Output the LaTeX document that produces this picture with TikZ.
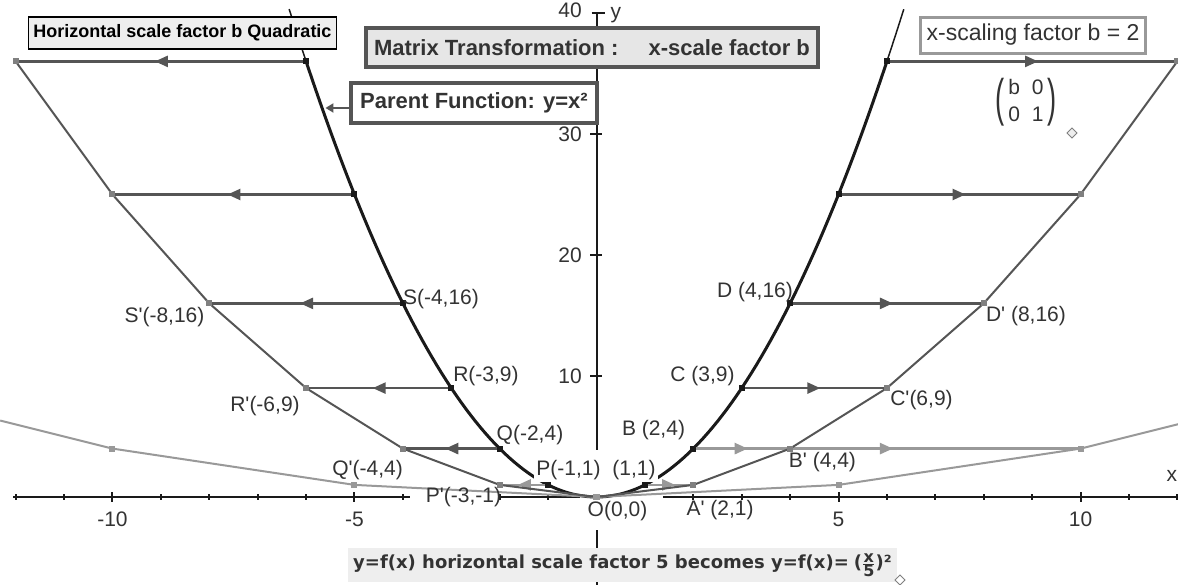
\documentclass[tikz,border=0pt]{standalone}
\usepackage{fontspec}
\setmainfont{Liberation Sans}
\newfontfamily\widefont{DejaVu Sans}
\usetikzlibrary{arrows.meta,decorations.markings}

\definecolor{inkblack}{HTML}{1A1A1A}
\definecolor{darkgrey}{HTML}{555555}
\definecolor{midgrey}{HTML}{808080}
\definecolor{softgrey}{HTML}{999999}
\definecolor{labelgrey}{HTML}{333333}
\definecolor{boxfill}{HTML}{EEEEEE}
\definecolor{headfill}{HTML}{E6E6E6}

\newcommand\pr{\textquotesingle}
\newcommand\lblsize{\fontsize{21}{24}\selectfont}
\newcommand\bigparen[1]{\raisebox{-0.37em}{\scalebox{1.3}[2.45]{#1}}}

\tikzset{
  midarrow/.style={postaction={decorate},decoration={markings,
    mark=at position 0.5 with {\pgftransformxshift{6pt}\arrow{Triangle[length=13pt,width=11pt]}}}},
  axisline/.style={line width=2pt,inkblack},
  tick/.style={line width=2pt,inkblack},
  ticklbl/.style={font=\lblsize,text=labelgrey,inner sep=0pt},
  parent/.style={line width=3pt,inkblack},
  parentthin/.style={line width=1.5pt,inkblack},
  image/.style={line width=2pt,darkgrey},
  fifth/.style={line width=2pt,softgrey},
  darkarrow/.style={line width=2.5pt,darkgrey,midarrow},
  lightarrow/.style={line width=2.5pt,softgrey,midarrow},
  lbl/.style={font=\lblsize,text=labelgrey,inner sep=0pt},
  cutlbl/.style={lbl,fill=white,inner sep=2pt},
  pointer/.style={line width=2.5pt,darkgrey,-{Triangle[length=8pt,width=9pt]}},
}

\begin{document}
\begin{tikzpicture}[x=48.4pt,y=12.1pt]
\useasboundingbox (-12.3244,-7.2727) rectangle (12.0145,41.0744);
\fill[white] (-12.3244,-7.2727) rectangle (12.0145,41.0744);

% points of y=x^2 and of the image
\foreach \x in {1,...,6} {
  \coordinate (pr\x) at (\x,\x*\x);
  \coordinate (pl\x) at (-\x,\x*\x);
  \coordinate (tr\x) at (2*\x,\x*\x);
  \coordinate (tl\x) at (-2*\x,\x*\x);
}
\coordinate (O) at (0,0);
\coordinate (fl2) at (-10,4);
\coordinate (fl1) at (-5,1);
\coordinate (fr1) at (5,1);
\coordinate (fr2) at (10,4);

% axes
\draw[axisline] (-12.05,0) -- (-3.85,0);
\draw[axisline] (-1.99,0) -- (-0.34,0);
\draw[axisline] (1.37,0) -- (12.02,0);
\draw[axisline] (0,40) -- (0,3.88);
\draw[axisline] (0,-2.73) -- (0,-7.3);
\foreach \x in {-12,-11,-9,-8,-7,-6,-4,-2,-1,2,3,4,6,7,8,9,11,12}
  \draw[tick] (\x,-0.21) -- (\x,0.21);
\foreach \x in {-10,-5,5,10} {
  \draw[tick] (\x,-0.41) -- (\x,0.41);
  \node[ticklbl] (xt\x) at (\x,-1.82) {\x};
}
\foreach \y in {10,20,30} {
  \draw[tick] (-0.13,\y) -- (0.11,\y);
  \node[ticklbl,anchor=east] (yt\y) at (-0.3,\y) {\y};
}
\draw[tick] (-0.1,40) -- (0.17,40);
\node[ticklbl,anchor=east] (yt40) at (-0.3,40.2) {40};
\node[ticklbl] (ylab) at (0.40,39.8) {y};
\node[ticklbl] (xlab) at (11.89,1.74) {x};

% parent function
\draw[parentthin] plot[domain=-6.35:6.35,samples=90] (\x,{\x*\x});
\draw[parent] plot[domain=-6:6,samples=121] (\x,{\x*\x});
\node[cutlbl] (labP) at (-0.579,2.23) {P(-1,1)};
\node[cutlbl] (labA) at (0.775,2.23) {(1,1)};

% scale factor 5
\draw[fifth] (-12.32,6.32) -- (fl2) -- (fl1) -- (O) -- (fr1) -- (fr2) -- (12.02,6.02);
\draw[lightarrow] (pl1) -- (tl1);
\draw[lightarrow] (pr1) -- (tr1);
\draw[lightarrow] (pr2) -- (fr2);
\draw[lightarrow] (pr2) -- (tr2);

% scale factor 2
\draw[image] (tl6) -- (tl5) -- (tl4) -- (tl3) -- (tl2) -- (tl1) -- (O)
  -- (tr1) -- (tr2) -- (tr3) -- (tr4) -- (tr5) -- (tr6);
\draw[darkarrow] (pl2) -- (tl2);
\foreach \x in {3,...,6} {
  \draw[darkarrow] (pl\x) -- (tl\x);
  \draw[darkarrow] (pr\x) -- (tr\x);
}

\foreach \x in {1,...,6} {
  \fill[inkblack] (pr\x) ++(-3pt,-3pt) rectangle ++(6pt,6pt);
  \fill[inkblack] (pl\x) ++(-3pt,-3pt) rectangle ++(6pt,6pt);
  \fill[midgrey] (tr\x) ++(-3pt,-3pt) rectangle ++(6pt,6pt);
  \fill[midgrey] (tl\x) ++(-3pt,-3pt) rectangle ++(6pt,6pt);
}
\foreach \p in {fl2,fl1,fr1,fr2,O}
  \fill[softgrey] (\p) ++(-3pt,-3pt) rectangle ++(6pt,6pt);

% point labels
\node[lbl] (labS) at (-3.213,16.36) {S(-4,16)};
\node[lbl] (labS2) at (-8.926,14.83) {S\pr(-8,16)};
\node[lbl] (labR) at (-2.283,9.96) {R(-3,9)};
\node[lbl] (labR2) at (-6.849,7.52) {R\pr(-6,9)};
\node[lbl] (labQ) at (-1.374,5.12) {Q(-2,4)};
\node[lbl] (labQ2) at (-4.731,2.23) {Q\pr(-4,4)};
\node[lbl] (labP2) at (-2.748,0) {P\pr(-3,-1)};
\node[lbl] (labO) at (0.434,-1.157) {O(0,0)};
\node[lbl] (labB) at (1.178,5.54) {B (2,4)};
\node[lbl] (labA2) at (2.552,-1.074) {A\pr\ (2,1)};
\node[lbl] (labB2) at (4.669,2.89) {B\pr\ (4,4)};
\node[lbl] (labC) at (2.190,10.02) {C (3,9)};
\node[lbl] (labC2) at (6.715,8.02) {C\pr(6,9)};
\node[lbl] (labD) at (3.275,16.90) {D (4,16)};
\node[lbl] (labD2) at (8.874,14.92) {D\pr\ (8,16)};

% text boxes
\node[draw=black,line width=1.2pt,fill=boxfill,inner xsep=5pt,minimum height=32pt,
  font=\fontsize{18}{20}\selectfont\bfseries] (title) at (-8.554,38.35)
  {Horizontal scale factor b Quadratic};
\node[draw=darkgrey,line width=3.5pt,fill=headfill,inner xsep=8pt,minimum height=39pt,
  font=\fontsize{22}{26}\selectfont\bfseries,text=labelgrey] (matrixbox) at (-0.093,37.15)
  {Matrix Transformation :\hspace{30pt}x-scale factor b};
\node[draw=darkgrey,line width=3.5pt,fill=white,inner xsep=9pt,minimum height=40pt,
  font=\fontsize{22}{26}\selectfont\bfseries,text=labelgrey] (parent) at (-2.531,32.56)
  {Parent Function: y=x²};
\node[draw=softgrey,line width=3pt,fill=white,inner xsep=6pt,minimum height=36pt,
  font=\fontsize{23}{26}\selectfont,text=labelgrey] (scalebox) at (9.019,38.18)
  {x-scaling factor b = 2};
\coordinate (pc) at (-5.60,32.15);
\draw[pointer] (pc -| parent.west) -- (pc);

\node[font=\fontsize{21}{27}\selectfont,text=labelgrey,inner sep=0pt] (bmatrix) at (8.874,32.60)
  {\bigparen{(}\hspace{4pt}\begin{tabular}{@{}c@{\hspace{12pt}}c@{}}b&0\\0&1\end{tabular}\hspace{4pt}\bigparen{)}};
\draw[midgrey,fill=boxfill,line width=1pt] (9.824,30.08) +(0pt,5pt) -- +(5pt,0pt) -- +(0pt,-5pt) -- +(-5pt,0pt) -- cycle;

\node[fill=boxfill,inner xsep=5pt,inner ysep=5pt,anchor=base west,
  font=\widefont\fontsize{18}{20}\selectfont\bfseries,text=labelgrey] (rule) at (-5.134,-5.95)
  {y=f(x) horizontal scale factor 5 becomes y=f(x)=\hspace{5pt}(%
   $\frac{\mbox{\fontsize{16}{16}\selectfont x}}{\mbox{\fontsize{16}{16}\selectfont 5}}$)²};
\draw[midgrey,fill=white,line width=1pt] (6.27,-6.86) +(0pt,5pt) -- +(5pt,0pt) -- +(0pt,-5pt) -- +(-5pt,0pt) -- cycle;
\end{tikzpicture}
\end{document}
